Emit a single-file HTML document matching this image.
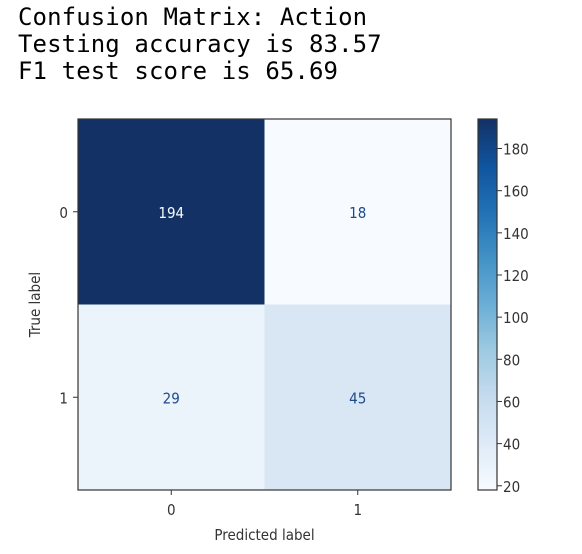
<!DOCTYPE html>
<html><head><meta charset="utf-8"><style>
body{margin:0;background:#fff;width:582px;height:554px;overflow:hidden}
pre{position:absolute;left:18px;top:4px;margin:0;font:24px/27px "DejaVu Sans Mono","Liberation Mono",monospace;letter-spacing:0.1px;color:#000}
svg{position:absolute;left:0;top:0}
</style></head><body>
<pre>Confusion Matrix: Action
Testing accuracy is 83.57
F1 test score is 65.69</pre>
<svg id="c" width="582" height="554" font-family="DejaVu Sans Condensed, DejaVu Sans, Liberation Sans, sans-serif"></svg>
<script>
const trueLabels=["0","1"];
const predLabels=["0","1"];
const values=[[194,18],[29,45]];
const cbTicks=[20,40,60,80,100,120,140,160,180];
const NS="http://www.w3.org/2000/svg";
const svg=document.getElementById('c');
function mk(t,a,p){const e=document.createElementNS(NS,t);for(const k in a)e.setAttribute(k,a[k]);(p||svg).appendChild(e);return e;}
const L=78,R=451,T=119,B=490;
const flat=values.flat();const vmin=Math.min(...flat),vmax=Math.max(...flat);
const stops=[[247,251,255],[222,235,247],[198,219,239],[158,202,225],[107,174,214],[66,146,198],[33,113,181],[16,84,158],[19,49,101]];
function col(v){let t=(v-vmin)/(vmax-vmin);t=Math.max(0,Math.min(1,t));const s=t*(stops.length-1);const i=Math.min(Math.floor(s),stops.length-2);const f=s-i;const c=stops[i].map((x,j)=>Math.round(x+(stops[i+1][j]-x)*f));return `rgb(${c})`;}
const nr=trueLabels.length,nc=predLabels.length;
const cw=(R-L)/nc,ch=(B-T)/nr;
const xc=j=>L+cw*(j+0.5),yc=i=>T+ch*(i+0.5);
values.forEach((row,i)=>row.forEach((v,j)=>{
 const r=mk('rect',{x:L+cw*j,y:T+ch*i,width:cw+0.5,height:ch+0.5,fill:col(v)});
 
 
 const t=mk('text',{x:xc(j),y:yc(i)+6,'text-anchor':'middle','font-size':15,fill:(v-vmin)/(vmax-vmin)>0.5?'#f7fbff':'#1f4a8c'});
 t.textContent=v;
 
 
}));
const fr=mk('rect',{x:L,y:T,width:R-L,height:B-T,fill:'none',stroke:'#333','stroke-width':1.2});


trueLabels.forEach((l,i)=>{
 mk('line',{x1:L-5,x2:L,y1:yc(i),y2:yc(i),stroke:'#333'});
 const t=mk('text',{x:L-10,y:yc(i)+6,'text-anchor':'end','font-size':15,fill:'#333'});t.textContent=l;
 
 
});
predLabels.forEach((l,j)=>{
 mk('line',{x1:xc(j),x2:xc(j),y1:B,y2:B+5,stroke:'#333'});
 const t=mk('text',{x:xc(j),y:B+25,'text-anchor':'middle','font-size':15,fill:'#333'});t.textContent=l;
 
 
});
const xt=mk('text',{x:(L+R)/2,y:540,'text-anchor':'middle','font-size':15,fill:'#333'});xt.textContent='Predicted label';


const yt=mk('text',{x:0,y:0,'text-anchor':'middle','font-size':15,fill:'#333',transform:`translate(40,${(T+B)/2}) rotate(-90)`});yt.textContent='True label';


const CL=478,CR=497;
const defs=mk('defs',{});const g=mk('linearGradient',{id:'g',x1:0,y1:1,x2:0,y2:0},defs);
stops.forEach((s,k)=>mk('stop',{offset:k/(stops.length-1),'stop-color':`rgb(${s})`},g));
const cb=mk('rect',{x:CL,y:T,width:CR-CL,height:B-T,fill:'url(#g)',stroke:'#333','stroke-width':1.2});


const cy=v=>B-(v-vmin)/(vmax-vmin)*(B-T);
cbTicks.forEach(v=>{
 mk('line',{x1:CR,x2:CR+5,y1:cy(v),y2:cy(v),stroke:'#333'});
 const t=mk('text',{x:CR+6,y:cy(v)+6,'font-size':15,fill:'#333'});t.textContent=v;
 
 
});
</script>
</body></html>
